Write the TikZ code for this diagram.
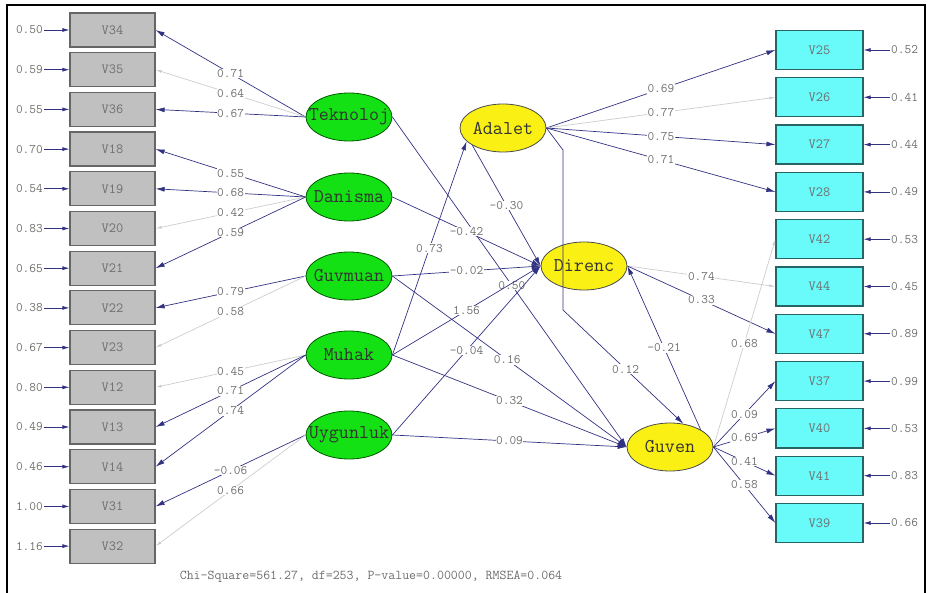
\documentclass[tikz,border=0pt]{standalone}
\usepackage{fontspec}
\usetikzlibrary{arrows.meta,shapes.geometric}

\definecolor{obsgray}{RGB}{192,192,192}
\definecolor{obscyan}{RGB}{105,250,250}
\definecolor{boxteal}{RGB}{40,100,100}
\definecolor{latgreen}{RGB}{20,225,20}
\definecolor{latyellow}{RGB}{250,240,20}
\definecolor{pathblue}{RGB}{50,50,130}
\definecolor{fixgray}{RGB}{205,205,205}
\definecolor{numgray}{RGB}{110,110,110}

\tikzset{
  obsleft/.style={draw=black!60, line width=1.2pt, fill=obsgray, minimum width=85pt,
    minimum height=34pt, inner sep=0pt, font=\ttfamily\fontsize{14}{14}\selectfont, text=numgray},
  obsright/.style={obsleft, draw=boxteal, fill=obscyan, minimum width=87pt, minimum height=39pt},
  exo/.style={ellipse, draw=green!35!black, line width=0.8pt, fill=latgreen, minimum width=86pt,
    minimum height=48pt, inner sep=0pt, font=\ttfamily\fontsize{19.5}{19.5}\selectfont, text=black!80},
  endo/.style={exo, draw=black!70, fill=latyellow},
  num/.style={fill=white, inner sep=0.6pt, font=\ttfamily\fontsize{13}{13}\selectfont, text=numgray},
  errnum/.style={inner sep=1pt, font=\ttfamily\fontsize{13}{13}\selectfont, text=numgray},
  ld/.style={pathblue, line width=0.7pt, -{Latex[length=9pt,width=5pt]}},
  fx/.style={fixgray, line width=0.7pt, -{Latex[length=6pt,width=3pt]}},
}

\begin{document}
\begin{tikzpicture}[x=1pt,y=-1pt]
  \useasboundingbox (0,0) rectangle (929,593);
  % frame
  \draw[line width=2pt] (7,5) rectangle (925,610);

  % Draw indicator boxes with error terms
  \foreach \v/\e [count=\i from 0] in {V34/0.50,V35/0.59,V36/0.55,V18/0.70,V19/0.54,V20/0.83,V21/0.65,
      V22/0.38,V23/0.67,V12/0.80,V13/0.49,V14/0.46,V31/1.00,V32/1.16} {
    \node[obsleft] (\v) at (112.5,30+39.7*\i) {\v};
    \node[errnum,anchor=east] (e\v) at (44,30+39.7*\i) {\e};
    \draw[ld,-{Latex[length=7pt,width=4pt]}] (e\v) -- (\v);
  }
  \foreach \v/\e [count=\i from 0] in {V25/0.52,V26/0.41,V27/0.44,V28/0.49,V42/0.53,V44/0.45,
      V47/0.89,V37/0.99,V40/0.53,V41/0.83,V39/0.66} {
    \node[obsright] (\v) at (819.5,50+47.3*\i) {\v};
    \node[errnum,anchor=west] (e\v) at (890,50+47.3*\i) {\e};
    \draw[ld,-{Latex[length=7pt,width=4pt]}] (e\v) -- (\v);
  }

  % Draw latent variables
  \node[exo] (tek) at (349,117) {\makebox[0pt]{Teknoloj}};
  \node[exo] (dan) at (349,197) {\makebox[0pt]{Danisma}};
  \node[exo] (guv) at (349,276) {\makebox[0pt]{Guvmuan}};
  \node[exo] (muh) at (349,355) {\makebox[0pt]{Muhak}};
  \node[exo] (uyg) at (349,435) {\makebox[0pt]{Uygunluk}};
  \node[endo] (adalet) at (503,128) {\makebox[0pt]{Adalet}};
  \node[endo] (direnc) at (584,266) {\makebox[0pt]{Direnc}};
  \node[endo] (guven) at (670,447) {\makebox[0pt]{Guven}};

  % Draw loadings
  \foreach \lat/\v/\l/\s in {tek/V34/0.71/ld,tek/V35/0.64/fx,tek/V36/0.67/ld,dan/V18/0.55/ld,
      dan/V19/0.68/ld,dan/V20/0.42/fx,dan/V21/0.59/ld,guv/V22/0.79/ld,guv/V23/0.58/fx,
      muh/V12/0.45/fx,muh/V13/0.71/ld,muh/V14/0.74/ld,uyg/V31/-0.06/ld,uyg/V32/0.66/fx} {
    \draw[\s] (\lat.west) -- node[num] (l\v) {\l} (\v.east);
  }
  \foreach \lat/\v/\l/\s in {adalet/V25/0.69/ld,adalet/V26/0.77/fx,adalet/V27/0.75/ld,adalet/V28/0.71/ld,
      direnc/V44/0.74/fx,direnc/V47/0.33/ld,guven/V42/0.68/fx,guven/V37/0.09/ld,
      guven/V40/0.69/ld,guven/V41/0.41/ld,guven/V39/0.58/ld} {
    \draw[\s] (\lat.east) -- node[num] (l\v) {\l} (\v.west);
  }

  % Draw structural paths
  \foreach \a/\b/\l/\p [count=\i] in {tek.east/guven.west/0.50/0.51,dan.east/direnc.west/-0.42/0.5,
      guv.east/direnc.west/-0.02/0.5,guv.east/guven.west/0.16/0.49,muh.east/adalet.200/0.73/0.5,
      muh.east/direnc.west/1.56/0.5,muh.east/guven.west/0.32/0.5,uyg.east/direnc.west/-0.04/0.5,
      uyg.east/guven.west/0.09/0.5,adalet.south west/direnc.west/-0.30/0.5,
      guven.north east/direnc.east/-0.21/0.5} {
    \draw[ld] (\a) -- node[num,pos=\p] (s\i) {\l} (\b);
  }
  \coordinate (bendA) at (563,150);
  \coordinate (bendB) at (563,310);
  \draw[ld] (adalet.east) -- (bendA) -- (bendB) -- node[num,pos=0.52] (s12) {0.12} (guven.60);

  % fit line
  \node[errnum,font=\ttfamily\fontsize{13.5}{13.5}\selectfont] (fit) at (371,577)
    {Chi-Square=561.27, df=253, P-value=0.00000, RMSEA=0.064};
\end{tikzpicture}
\end{document}
